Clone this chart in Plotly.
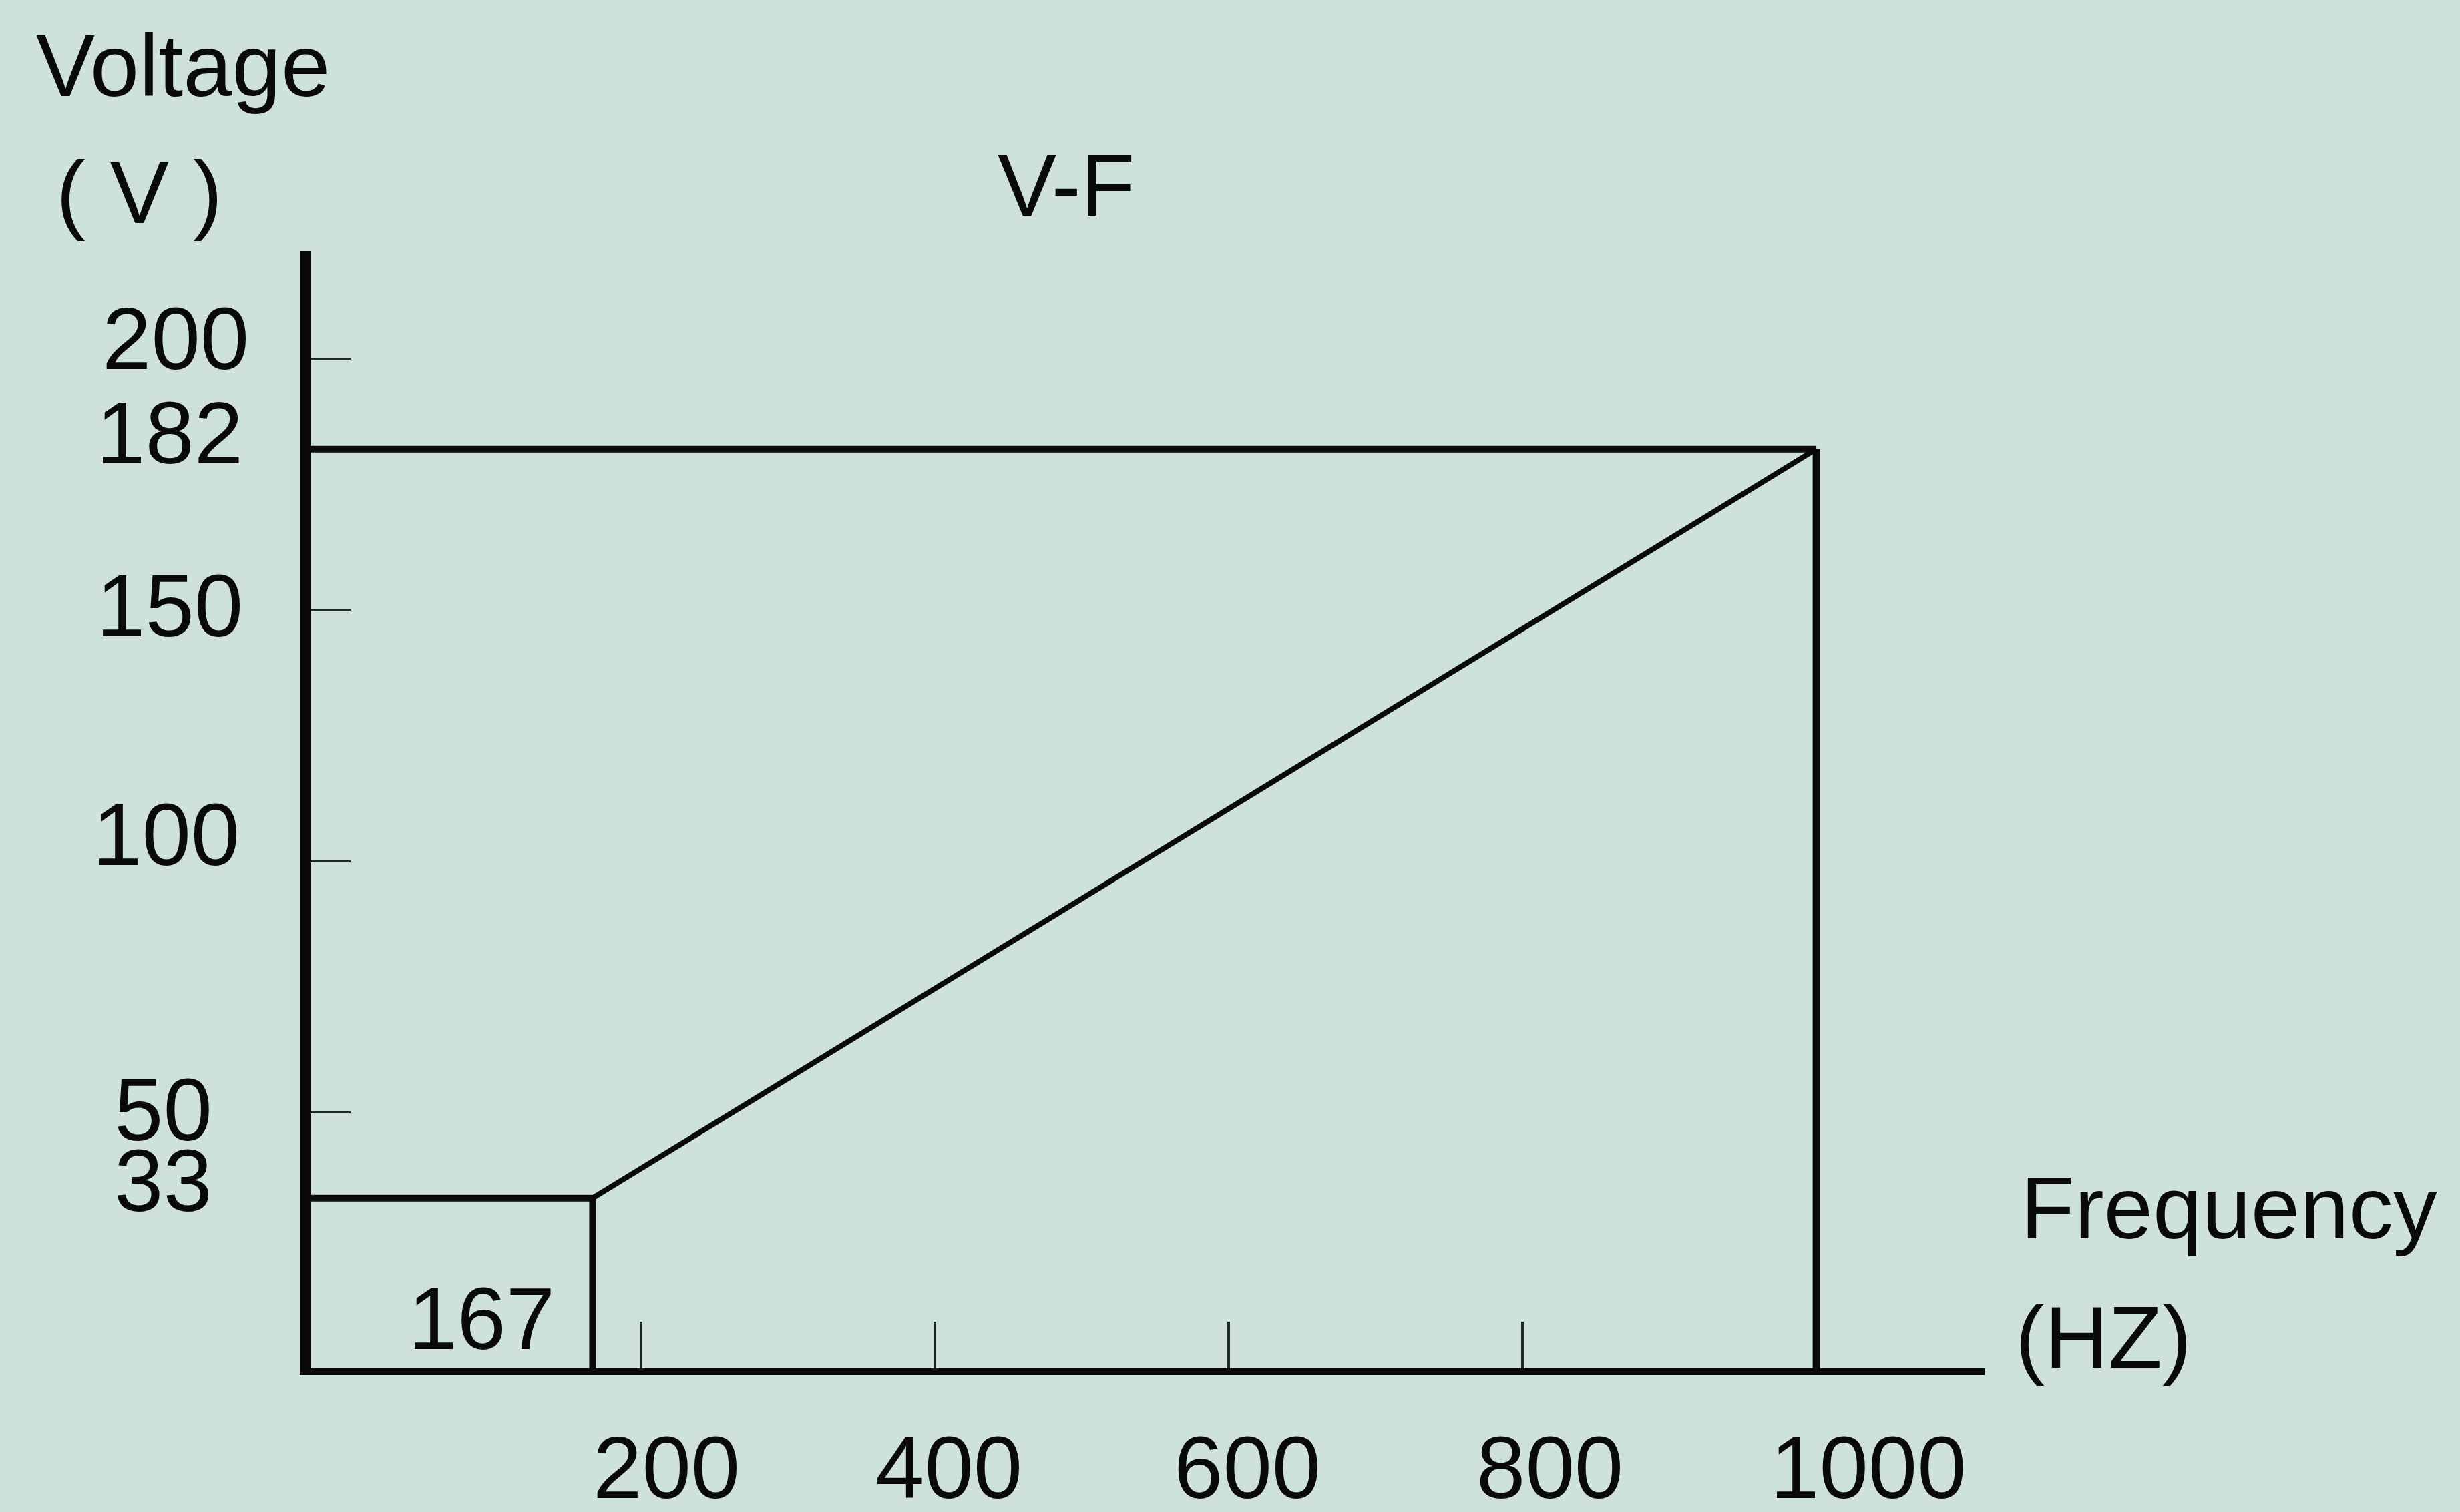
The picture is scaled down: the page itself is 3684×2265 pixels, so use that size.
import plotly.graph_objects as go

# ---------------- data ----------------
freq_break = [167, 1000]          # Hz: end of low-speed plateau, base frequency
volt_break = [33, 182]            # V at those points
x_tick_vals = [200, 400, 600, 800, 1000]
x_tick_text = ["200", "400", "600", "800", "1000"]
y_tick_vals = [200, 182, 150, 100, 50, 33]
y_tick_text = ["200", "182", "150", "100", "50", "33"]
y_tick_marks = [50, 100, 150, 200]
x_tick_marks = [200, 400, 600, 800]

# ---------------- layout constants ----------------
W, H = 3684, 2265
L, R, T, B = 465, 712, 376, 215
PW, PH = W - L - R, H - T - B
XMIN, XMAX = -25, 1114.5
YMIN, YMAX = -0.9, 221.4
BG = "#cee2db"
FONT = "Liberation Sans, Arial, Helvetica, sans-serif"
FS = 132
INK = "#0a0a0a"

def xpx(x):
    return L + (x - XMIN) * PW / (XMAX - XMIN)

def ypx(y):
    return T + (YMAX - y) * PH / (YMAX - YMIN)

def paper_x(px):
    return (px - L) / PW

def paper_y(py):
    return (T + PH - py) / PH

fig = go.Figure()

line_style = dict(color=INK, width=10)
# V/F curve: plateau from axis at 33 V to 167 Hz, then ramp to 182 V at 1000 Hz
fig.add_trace(go.Scatter(x=[XMIN, freq_break[0]], y=[volt_break[0], volt_break[0]],
                         mode="lines", line=line_style, hoverinfo="skip"))
fig.add_trace(go.Scatter(x=freq_break, y=volt_break, mode="lines",
                         line=dict(color=INK, width=8), hoverinfo="skip"))
# guide lines
fig.add_trace(go.Scatter(x=[freq_break[0], freq_break[0]], y=[YMIN, volt_break[0]],
                         mode="lines", line=line_style, hoverinfo="skip"))
fig.add_trace(go.Scatter(x=[XMIN, freq_break[1]], y=[volt_break[1], volt_break[1]],
                         mode="lines", line=line_style, hoverinfo="skip"))
fig.add_trace(go.Scatter(x=[freq_break[1], freq_break[1]], y=[YMIN, volt_break[1]],
                         mode="lines", line=dict(color=INK, width=11), hoverinfo="skip"))

annotations = []
tf = dict(family=FONT, size=FS, color=INK)

# y tick labels (target visual centres, px)
y_lab_cx = [263, 254, 254, 249, 244, 244]
y_lab_cy = [507, 648, 907, 1250, 1663, 1769]
for v, t, cx, cy in zip(y_tick_vals, y_tick_text, y_lab_cx, y_lab_cy):
    annotations.append(dict(x=XMIN, y=v, xref="x", yref="y", text=t, showarrow=False,
                            xanchor="center", yanchor="middle",
                            xshift=cx - L, yshift=ypx(v) - cy, font=tf))

# x tick labels
x_lab_cx = [998, 1421, 1868, 2321, 2798]
x_lab_cy = 2198
for v, t, cx in zip(x_tick_vals, x_tick_text, x_lab_cx):
    annotations.append(dict(x=v, y=YMIN, xref="x", yref="y", text=t, showarrow=False,
                            xanchor="center", yanchor="middle",
                            xshift=cx - xpx(v), yshift=ypx(YMIN) - x_lab_cy, font=tf))

# plateau end frequency label
annotations.append(dict(x=freq_break[0], y=0, xref="x", yref="y", text=str(freq_break[0]),
                        showarrow=False, xanchor="center", yanchor="middle",
                        xshift=721 - xpx(freq_break[0]), yshift=ypx(0) - 1976, font=tf))

# titles
def paper_text(text, px, py, xanchor):
    annotations.append(dict(x=paper_x(px), y=paper_y(py), xref="paper", yref="paper",
                            text=text, showarrow=False, xanchor=xanchor, yanchor="middle",
                            font=tf))

paper_text("Voltage", 52, 99, "left")
paper_text("( V )", 82, 289, "left")
paper_text("V-F", 1596, 277, "center")
paper_text("Frequency", 3024, 1809, "left")
paper_text("(HZ)", 3016, 2003, "left")

fig.update_layout(
    width=W, height=H,
    margin=dict(l=L, r=R, t=T, b=B, pad=0),
    paper_bgcolor=BG, plot_bgcolor=BG,
    showlegend=False,
    annotations=annotations,
    xaxis=dict(range=[XMIN, XMAX], showgrid=False, zeroline=False,
               showline=True, linecolor=INK, linewidth=10,
               tickmode="array", tickvals=x_tick_marks, ticks="inside",
               ticklen=70, tickwidth=4, tickcolor="#1e2824",
               showticklabels=False, fixedrange=True),
    yaxis=dict(range=[YMIN, YMAX], showgrid=False, zeroline=False,
               showline=True, linecolor=INK, linewidth=16,
               tickmode="array", tickvals=y_tick_marks, ticks="inside",
               ticklen=60, tickwidth=3, tickcolor="#1e2824",
               showticklabels=False, fixedrange=True),
)

fig.write_html(
    "out.html",
    config={"displayModeBar": False},
    post_script="document.body.style.margin='0';document.body.style.background='%s';" % BG,
)
